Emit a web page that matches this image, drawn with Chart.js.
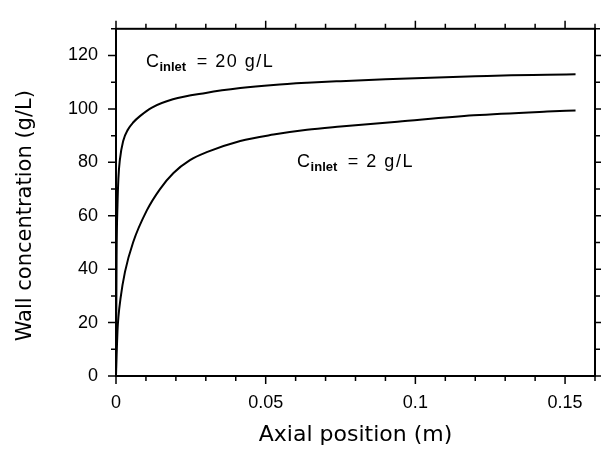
<!DOCTYPE html>
<html>
<head>
<meta charset="utf-8">
<script src="https://cdn.jsdelivr.net/npm/chart.js@4.4.1/dist/chart.umd.min.js"></script>
<style>
  html, body { margin: 0; padding: 0; background: #fff; }
  #wrap { width: 601px; height: 458px; }
</style>
</head>
<body>
<div id="wrap"><canvas id="chart"></canvas></div>
<script>
// curve for C_inlet = 20 g/L
var xHigh = [0, 0.0002, 0.0005, 0.0008, 0.0013, 0.0024, 0.004, 0.0058, 0.008, 0.012, 0.019, 0.030, 0.0415, 0.0526, 0.0638, 0.075, 0.09, 0.105, 0.12, 0.132, 0.144, 0.1535];
var yHigh = [0, 45, 64, 74, 81, 88, 92.3, 95, 97.3, 100.5, 103.6, 106, 107.8, 109, 109.8, 110.4, 111.1, 111.7, 112.2, 112.6, 112.8, 113];

// curve for C_inlet = 2 g/L
var xLow = [0, 0.0002, 0.0005, 0.0008, 0.0015, 0.003, 0.0057, 0.0103, 0.0147, 0.0192, 0.0247, 0.0303, 0.0415, 0.0526, 0.0638, 0.075, 0.094, 0.1195, 0.144, 0.1535];
var yLow = [0, 8, 17, 22, 29, 39, 50, 62, 70, 76, 80.8, 83.8, 88, 90.4, 92.2, 93.4, 95.2, 97.6, 99, 99.4];

var xTicks = [0, 0.05, 0.1, 0.15];
var xTickLabels = ["0", "0.05", "0.1", "0.15"];
var yTicks = [0, 20, 40, 60, 80, 100, 120];
var yTickLabels = ["0", "20", "40", "60", "80", "100", "120"];

// curve labels, anchored in data units
var noteX = [0.010, 0.0605];
var noteY = [115.8, 78.2];
var noteText = ["20 g/L", "2 g/L"];

function toPoints(xs, ys) {
    return xs.map(function (v, i) { return { x: v, y: ys[i] }; });
}

// box round the plot with outward ticks on all four sides
var frameTicks = {
    id: "frameTicks",
    afterDraw: function (chart) {
        var ctx = chart.ctx;
        var a = chart.chartArea;
        var x = chart.scales.x;
        var y = chart.scales.y;
        ctx.save();
        ctx.strokeStyle = "#000";
        ctx.lineWidth = 2;
        ctx.strokeRect(a.left, a.top, a.right - a.left, a.bottom - a.top);
        ctx.lineWidth = 1.5;
        ctx.beginPath();
        for (var i = 0; i <= 16; i++) {
            var px = x.getPixelForValue(i / 100);
            var len = i % 5 == 0 ? 8 : 5;
            ctx.moveTo(px, a.bottom);
            ctx.lineTo(px, a.bottom + len);
            ctx.moveTo(px, a.top);
            ctx.lineTo(px, a.top - len);
        }
        for (var j = 0; j <= 13; j++) {
            var py = y.getPixelForValue(j * 10);
            var l2 = j % 2 == 0 ? 8 : 5;
            ctx.moveTo(a.left, py);
            ctx.lineTo(a.left - l2, py);
            ctx.moveTo(a.right, py);
            ctx.lineTo(a.right + l2, py);
        }
        ctx.stroke();
        ctx.restore();
    },
};

var curveNotes = {
    id: "curveNotes",
    afterDatasetsDraw: function (chart) {
        var ctx = chart.ctx;
        var x = chart.scales.x;
        var y = chart.scales.y;
        ctx.save();
        ctx.fillStyle = "#000";
        ctx.textBaseline = "alphabetic";
        noteText.forEach(function (t, i) {
            var px = x.getPixelForValue(noteX[i]);
            var py = y.getPixelForValue(noteY[i]);
            ctx.font = "18px 'Liberation Sans', Arial, sans-serif";
            ctx.fillText("C", px, py);
            var w = ctx.measureText("C").width;
            ctx.font = "bold 13px 'Liberation Sans', Arial, sans-serif";
            ctx.fillText("inlet", px + w + 0.5, py + 4);
            var ws = ctx.measureText("inlet").width;
            ctx.font = "18px 'Liberation Sans', Arial, sans-serif";
            ctx.letterSpacing = "1.5px";
            ctx.fillText("= " + t, px + w + ws + 11, py);
            ctx.letterSpacing = "0px";
        });
        ctx.restore();
    },
};

var ctx = document.getElementById("chart");
var chart = new Chart(ctx, {
    type: "scatter",
    data: {
        datasets: [
            {
                label: "Cinlet = 20 g/L",
                data: toPoints(xHigh, yHigh),
                showLine: true,
                borderColor: "#000",
                backgroundColor: "#000",
                borderWidth: 2,
                pointRadius: 0,
                cubicInterpolationMode: "monotone",
            },
            {
                label: "Cinlet = 2 g/L",
                data: toPoints(xLow, yLow),
                showLine: true,
                borderColor: "#000",
                backgroundColor: "#000",
                borderWidth: 2,
                pointRadius: 0,
                cubicInterpolationMode: "monotone",
            },
        ],
    },
    options: {
        responsive: true,
        maintainAspectRatio: false,
        animation: false,
        layout: {
            padding: { top: 14, right: 6, left: 0, bottom: 0 },
        },
        scales: {
            x: {
                type: "linear",
                min: 0,
                max: 0.16,
                afterFit: function (s) { s.height = 82; },
                afterBuildTicks: function (s) {
                    s.ticks = xTicks.map(function (v) { return { value: v }; });
                },
                grid: { display: false, drawTicks: false },
                border: { display: false },
                ticks: {
                    autoSkip: false,
                    maxRotation: 0,
                    padding: 16,
                    color: "#000",
                    font: { family: "'Liberation Sans', Arial, sans-serif", size: 18 },
                    callback: function (v, i) { return xTickLabels[i]; },
                },
                title: {
                    display: true,
                    text: "Axial position (m)",
                    color: "#000",
                    padding: { top: 0, bottom: 10 },
                    font: { family: "'DejaVu Sans', sans-serif", size: 22 },
                },
            },
            y: {
                min: 0,
                max: 130,
                afterFit: function (s) { s.width = 116; },
                afterBuildTicks: function (s) {
                    s.ticks = yTicks.map(function (v) { return { value: v }; });
                },
                grid: { display: false, drawTicks: false },
                border: { display: false },
                ticks: {
                    autoSkip: false,
                    padding: 18,
                    color: "#000",
                    font: { family: "'Liberation Sans', Arial, sans-serif", size: 18 },
                    callback: function (v, i) { return yTickLabels[i]; },
                },
                title: {
                    display: true,
                    text: "Wall concentration (g/L)    ",
                    color: "#000",
                    padding: { top: 13, bottom: 0 },
                    font: { family: "'DejaVu Sans', sans-serif", size: 21 },
                },
            },
        },
        plugins: {
            legend: { display: false },
            tooltip: { enabled: false },
        },
    },
    plugins: [frameTicks, curveNotes],
});
</script>
</body>
</html>
